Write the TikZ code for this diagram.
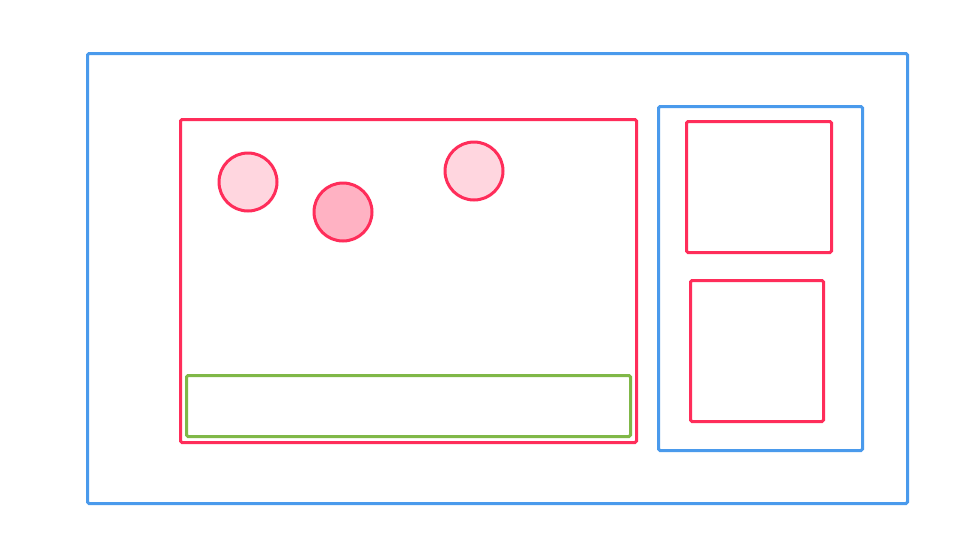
\documentclass[tikz,border=0pt]{standalone}
\definecolor{bl}{HTML}{4A9AEC}
\definecolor{rd}{HTML}{FF2D5A}
\definecolor{gr}{HTML}{80B848}
\definecolor{pk}{HTML}{FFD6DF}
\definecolor{pkd}{HTML}{FFB2C3}
\begin{document}
\begin{tikzpicture}[x=1pt,y=-1pt,
  box/.style={draw, line width=3pt, rounded corners=1.5pt, inner sep=0pt, anchor=north west},
  blbox/.style={box, draw=bl},
  rdbox/.style={box, draw=rd},
  grbox/.style={box, draw=gr},
  blob/.style={circle, draw=rd, line width=3pt, inner sep=0pt, minimum size=#1}]
\useasboundingbox[fill=white] (0,0) rectangle (961,542);
\node[blbox, minimum width=820pt, minimum height=450pt] (outer) at (86,52) {};
\node[rdbox, minimum width=456pt, minimum height=323pt] (main) at (179,118) {};
\node[grbox, minimum width=444pt, minimum height=61pt] (bar) at (185,374) {};
\node[blbox, minimum width=204pt, minimum height=344pt] (side) at (657,105) {};
\node[rdbox, minimum width=145pt, minimum height=131pt] (top) at (685,120) {};
\node[rdbox, minimum width=133pt, minimum height=141pt] (bot) at (689,279) {};
\node[blob=58pt, fill=pk] (c1) at (248,182) {};
\node[blob=58pt, fill=pkd] (c2) at (343,212) {};
\node[blob=58pt, fill=pk] (c3) at (474,171) {};
\end{tikzpicture}
\end{document}
